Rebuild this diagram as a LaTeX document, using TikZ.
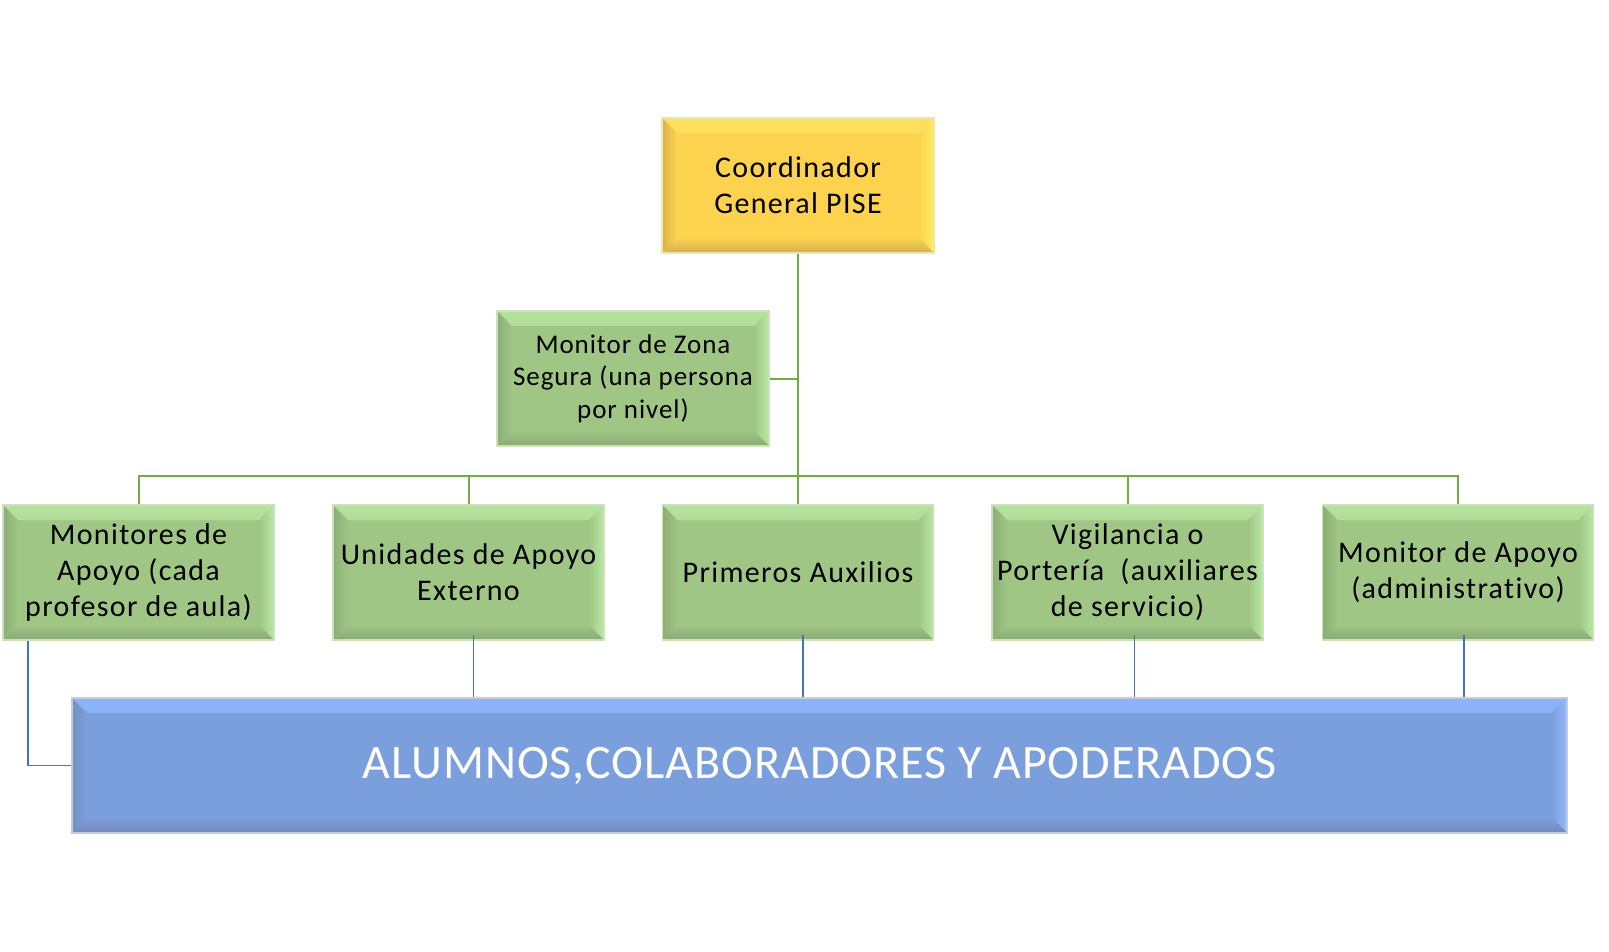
\documentclass[tikz,border=0pt]{standalone}
\usepackage{fontspec}
\setmainfont{Carlito}[Ligatures={NoCommon}]
\definecolor{gbase}{HTML}{9FC685}
\definecolor{glight}{HTML}{B4E19C}
\definecolor{glighter}{HTML}{BAE9A5}
\definecolor{gdark}{HTML}{8CAE76}
\definecolor{gdarker}{HTML}{8BA876}
\definecolor{gedge}{HTML}{CCE2BC}
\definecolor{ybase}{HTML}{FCD24E}
\definecolor{ylight}{HTML}{FFE05E}
\definecolor{ylighter}{HTML}{FFEF5E}
\definecolor{ydark}{HTML}{D8B24C}
\definecolor{ydarker}{HTML}{D3B054}
\definecolor{yedge}{HTML}{F2E3A8}
\definecolor{bbase}{HTML}{7B9EDC}
\definecolor{blight}{HTML}{8DB3F9}
\definecolor{blighter}{HTML}{95BBFF}
\definecolor{bdark}{HTML}{7790BE}
\definecolor{bdarker}{HTML}{7689B8}
\definecolor{bedge}{HTML}{C2CCDD}
\definecolor{gline}{HTML}{70AD47}
\definecolor{bline}{HTML}{4472C4}
\newcommand{\bw}{15pt}
\tikzset{
  bevel/.style n args={6}{
    fill=#1, draw=#6, line width=1.5pt,
    path picture={
      \def\bb{path picture bounding box}
      \shade[top color=#2, bottom color=#1] (\bb.north west) -- (\bb.north east) -- ([xshift=-\bw,yshift=-\bw]\bb.north east) -- ([xshift=\bw,yshift=-\bw]\bb.north west) -- cycle;
      \shade[left color=#1, right color=#3] (\bb.north east) -- (\bb.south east) -- ([xshift=-\bw,yshift=\bw]\bb.south east) -- ([xshift=-\bw,yshift=-\bw]\bb.north east) -- cycle;
      \shade[top color=#1, bottom color=#5] (\bb.south west) -- (\bb.south east) -- ([xshift=-\bw,yshift=\bw]\bb.south east) -- ([xshift=\bw,yshift=\bw]\bb.south west) -- cycle;
      \shade[left color=#4, right color=#1] (\bb.north west) -- (\bb.south west) -- ([xshift=\bw,yshift=\bw]\bb.south west) -- ([xshift=\bw,yshift=-\bw]\bb.north west) -- cycle;
    }},
  greenbox/.style={bevel={gbase}{glight}{glighter}{gdark}{gdarker}{gedge},
    minimum width=271pt, minimum height=135pt, inner sep=0pt, align=center,
    font=\fontsize{30}{36}\selectfont\addfontfeature{LetterSpace=4.5}, text=black},
  yellowbox/.style={bevel={ybase}{ylight}{ylighter}{ydark}{ydarker}{yedge},
    minimum width=272pt, minimum height=135pt, inner sep=0pt, align=center,
    font=\fontsize{30}{36}\selectfont\addfontfeature{LetterSpace=4.5}, text=black},
  bluebox/.style={bevel={bbase}{blight}{blighter}{bdark}{bdarker}{bedge},
    minimum width=1495pt, minimum height=135pt, inner sep=0pt, align=center,
    font=\fontsize{48}{56}\selectfont\addfontfeature{LetterSpace=2}, text=white},
  gconn/.style={draw=gline, line width=2pt},
  bconn/.style={draw=bline, line width=1.6pt},
}
\begin{document}
\begin{tikzpicture}[x=1pt,y=-1pt]
\fill[white] (0,0) rectangle (1609,951);
\useasboundingbox (0,0) rectangle (1609,951);

\node[yellowbox] (coord) at (798,185.5) {Coordinador\\General PISE};
\node[greenbox, minimum width=272pt, font=\fontsize{27}{32.5}\selectfont\addfontfeature{LetterSpace=3.5}] (zona) at (633,378.5) {Monitor de Zona\\Segura (una persona\\por nivel)};

\node[greenbox] (mon) at (138.5,572.5) {Monitores de\\Apoyo (cada\\profesor de aula)};
\node[greenbox] (uni) at (468.5,572.5) {Unidades de Apoyo\\Externo};
\node[greenbox] (prim) at (798,572.5) {Primeros Auxilios};
\node[greenbox] (vig) at (1127.5,572.5) {Vigilancia o\\Portería~ (auxiliares\\de servicio)};
\node[greenbox] (adm) at (1458,572.5) {Monitor de Apoyo\\(administrativo)};

\node[bluebox] (alum) at (819.5,765.5) {ALUMNOS,COLABORADORES Y APODERADOS};

\coordinate (bus) at (798,476);
\path[gconn] (coord.south) -- (prim.north);
\path[gconn] (zona.east) -- (zona.east -| coord.south);
\path[gconn] (mon.north) |- (bus) -| (adm.north);
\path[gconn] (uni.north) -- (uni.north |- bus);
\path[gconn] (vig.north) -- (vig.north |- bus);

\path[bconn] ([xshift=26pt]mon.south west) |- (alum.west);
\path[bconn] ([xshift=5pt,yshift=6pt]uni.south) -- ([xshift=5pt]uni.south |- alum.north);
\path[bconn] ([xshift=5pt,yshift=6pt]prim.south) -- ([xshift=5pt]prim.south |- alum.north);
\path[bconn] ([xshift=7pt,yshift=6pt]vig.south) -- ([xshift=7pt]vig.south |- alum.north);
\path[bconn] ([xshift=6pt,yshift=6pt]adm.south) -- ([xshift=6pt]adm.south |- alum.north);
\end{tikzpicture}
\end{document}
